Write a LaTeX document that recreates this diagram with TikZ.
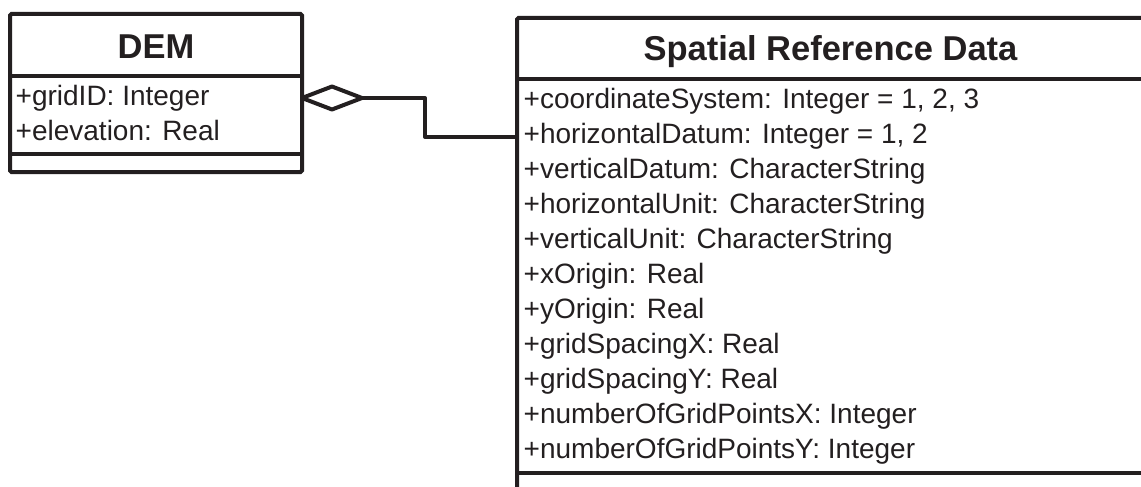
\documentclass[tikz,border=0pt]{standalone}
\usepackage{fontspec}
\setmainfont{Liberation Sans}
\definecolor{ink}{HTML}{231F20}
\begin{document}
\begin{tikzpicture}[x=1pt,y=-1pt,
  umlbox/.style={draw=ink, line width=4pt, rounded corners=1.5pt, inner sep=0pt, outer sep=0pt, anchor=north west},
  umltitle/.style={font=\fontsize{34.5}{40}\selectfont\bfseries, text=ink, inner sep=0pt, anchor=base},
  umlattr/.style={font=\fontsize{28}{34}\selectfont, text=ink, inner sep=0pt, anchor=base west},
  umldiv/.style={draw=ink, line width=4pt},
  assoc/.style={draw=ink, line width=4pt, line join=round}]
\useasboundingbox (0,0) rectangle (1141,487);
\clip (0,0) rectangle (1141,487);
% DEM class
\node[umlbox, minimum width=292pt, minimum height=158pt] (dem) at (10,14) {};
\draw[umldiv] (dem.west |- 0,76) -- (dem.east |- 0,76);
\draw[umldiv] (dem.west |- 0,154) -- (dem.east |- 0,154);
\node[umltitle] (demtitle) at (156,59) {DEM};
\node[umlattr] (dem1) at (15.5,106) {+gridID: Integer};
\node[umlattr] (dem2) at (15.5,140) {+elevation: Real};
% Spatial Reference Data class
\node[umlbox, minimum width=627pt, minimum height=500pt] (srd) at (517,18) {};
\draw[umldiv] (srd.west |- 0,79) -- (srd.east |- 0,79);
\draw[umldiv] (srd.west |- 0,473) -- (srd.east |- 0,473);
\node[umltitle] (srdtitle) at (830.5,61) {Spatial Reference Data};
\foreach \t [count=\i from 0] in {%
  {+coordinateSystem: Integer = 1, 2, 3},
  {+horizontalDatum: Integer = 1, 2},
  {+verticalDatum: CharacterString},
  {+horizontalUnit: CharacterString},
  {+verticalUnit: CharacterString},
  {+xOrigin: Real},
  {+yOrigin: Real},
  {+gridSpacingX: Real},
  {+gridSpacingY: Real},
  {+numberOfGridPointsX: Integer},
  {+numberOfGridPointsY: Integer}}
  \node[umlattr] (srd\i) at (523.5,109+34.9*\i) {\t};
% aggregation connector
\coordinate (dA) at (dem.east |- 0,98);
\coordinate (dB) at (srd.west |- 0,137);
\draw[assoc] (dA) -- ++(30,-11.5) -- ++(30,11.5) -- ++(-30,11.5) -- cycle;
\draw[assoc] (dA) ++(60,0) coordinate (dC) -- (dC -| 425,0) |- (dB);
\end{tikzpicture}
\end{document}
